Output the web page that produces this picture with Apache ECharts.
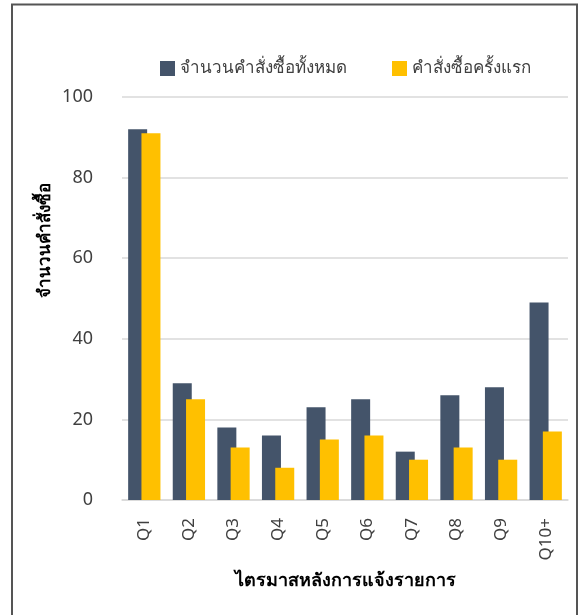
<!DOCTYPE html>
<html>
<head>
<meta charset="utf-8">
<script src="https://cdn.jsdelivr.net/npm/echarts@6/dist/echarts.min.js"></script>
<style>
  html, body { margin: 0; padding: 0; background: #ffffff; }
  #chart { width: 585px; height: 615px; }
</style>
</head>
<body>
<div id="chart"></div>
<script>
// Quarters after listing
const categories = ['Q1', 'Q2', 'Q3', 'Q4', 'Q5', 'Q6', 'Q7', 'Q8', 'Q9', 'Q10+'];
// Total orders per quarter
const totalOrders = [92, 29, 18, 16, 23, 25, 12, 26, 28, 49];
// First-time orders per quarter
const firstOrders = [91, 25, 13, 8, 15, 16, 10, 13, 10, 17];
const seriesNames = ['จำนวนคำสั่งซื้อทั้งหมด', 'คำสั่งซื้อครั้งแรก'];
const yAxisTitle = 'จำนวนคำสั่งซื้อ';
const xAxisTitle = 'ไตรมาสหลังการแจ้งรายการ';

const FONT = '"Noto Sans", "DejaVu Sans", sans-serif';

const chart = echarts.init(document.getElementById('chart'), null, { renderer: 'canvas' });
chart.setOption({
  animation: false,
  backgroundColor: '#ffffff',
  textStyle: { fontFamily: FONT },
  graphic: [
    {
      type: 'rect',
      shape: { x: 12, y: 4.5, width: 565, height: 640 },
      style: { fill: 'none', stroke: '#555555', lineWidth: 2 },
      silent: true
    },
    {
      type: 'text',
      x: 45,
      y: 240,
      rotation: Math.PI / 2,
      style: {
        text: yAxisTitle,
        fill: '#000000',
        font: 'bold 17px ' + FONT,
        align: 'center',
        verticalAlign: 'middle'
      }
    }
  ],
  legend: {
    top: 55,
    left: 155,
    itemWidth: 15,
    itemHeight: 15,
    itemGap: 45,
    icon: 'rect',
    textStyle: { fontSize: 17, color: '#404040', fontFamily: FONT }
  },
  grid: { left: 122, right: 17, top: 97, bottom: 115, containLabel: false },
  xAxis: {
    type: 'category',
    data: categories,
    axisLine: { lineStyle: { color: '#d9d9d9', width: 1.5 } },
    axisTick: { show: false },
    axisLabel: { rotate: 90, fontSize: 17, color: '#404040', margin: 18 },
    name: xAxisTitle,
    nameLocation: 'middle',
    nameGap: 72,
    nameTextStyle: { fontSize: 18, fontWeight: 'bold', color: '#000000' }
  },
  yAxis: {
    type: 'value',
    min: 0,
    max: 100,
    interval: 20,
    axisLine: { show: false },
    axisTick: { show: false },
    axisLabel: { fontSize: 18, color: '#404040', margin: 29 },
    splitLine: { lineStyle: { color: '#d9d9d9', width: 1.5 } }
  },
  series: [
    {
      name: seriesNames[0],
      type: 'bar',
      data: totalOrders,
      barWidth: 19,
      barGap: '-30%',
      itemStyle: { color: '#44546A' }
    },
    {
      name: seriesNames[1],
      type: 'bar',
      data: firstOrders,
      barWidth: 19,
      itemStyle: { color: '#FFC000' }
    }
  ]
});
</script>
</body>
</html>
